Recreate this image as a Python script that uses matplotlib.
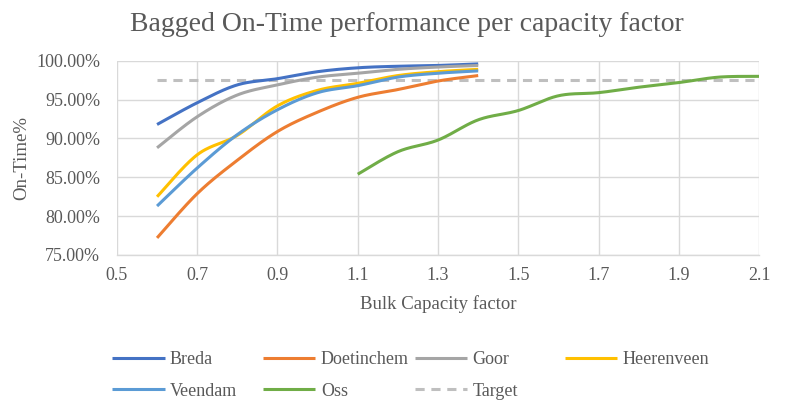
import numpy as np
import matplotlib
matplotlib.use("Agg")
import matplotlib.pyplot as plt

plt.rcParams['font.family'] = ['Liberation Serif', 'DejaVu Serif']

# Capacity factors (x) and on-time performance (%) per site
x_main = [0.6, 0.7, 0.8, 0.9, 1.0, 1.1, 1.2, 1.3, 1.4]
breda = [91.8, 94.6, 96.9, 97.7, 98.6, 99.1, 99.3, 99.4, 99.6]
doetinchem = [77.2, 82.9, 87.2, 90.9, 93.4, 95.3, 96.3, 97.4, 98.1]
goor = [88.8, 92.8, 95.6, 96.9, 97.9, 98.4, 98.9, 99.2, 99.4]
heerenveen = [82.5, 87.9, 90.4, 94.2, 96.2, 97.1, 98.1, 98.6, 98.9]
veendam = [81.3, 86.2, 90.5, 93.7, 95.9, 96.8, 97.9, 98.4, 98.7]

x_oss = [1.1, 1.2, 1.3, 1.4, 1.5, 1.6, 1.7, 1.8, 1.9, 2.0, 2.1]
oss = [85.4, 88.3, 89.8, 92.4, 93.6, 95.5, 95.9, 96.6, 97.2, 97.9, 98.0]

x_target = [0.6, 2.1]
target = [97.5, 97.5]

series_names = ["Breda", "Doetinchem", "Goor", "Heerenveen", "Veendam", "Oss", "Target"]
colors = ["#4472C4", "#ED7D31", "#A5A5A5", "#FFC000", "#5B9BD5", "#70AD47", "#BFBFBF"]

x_ticks = [0.5, 0.7, 0.9, 1.1, 1.3, 1.5, 1.7, 1.9, 2.1]
y_ticks = [75, 80, 85, 90, 95, 100]


def smooth(xs, ys, n=30):
    """Cardinal (Catmull-Rom) Bezier smoothing through the given points."""
    p = np.column_stack([xs, ys]).astype(float)
    if len(p) < 3:
        return p[:, 0], p[:, 1]
    ext = np.vstack([p[0], p, p[-1]])
    out = []
    t = np.linspace(0, 1, n)[:, None]
    for i in range(1, len(ext) - 2):
        p0, p1, p2, p3 = ext[i - 1], ext[i], ext[i + 1], ext[i + 2]
        c1 = p1 + (p2 - p0) / 6.0
        c2 = p2 - (p3 - p1) / 6.0
        seg = ((1 - t) ** 3) * p1 + 3 * ((1 - t) ** 2) * t * c1 \
            + 3 * (1 - t) * t ** 2 * c2 + t ** 3 * p2
        out.append(seg if i == 1 else seg[1:])
    out = np.vstack(out)
    return out[:, 0], out[:, 1]


fig = plt.figure(figsize=(7.9, 4.0), dpi=100)
ax = fig.add_axes([0.148, 0.3625, 0.813, 0.4855])

data = [(x_main, breda), (x_main, doetinchem), (x_main, goor),
        (x_main, heerenveen), (x_main, veendam), (x_oss, oss)]
handles = []
for (xs, ys), name, c in zip(data, series_names[:6], colors[:6]):
    sx, sy = smooth(xs, ys)
    ln, = ax.plot(sx, sy, color=c, lw=2.2, solid_capstyle='butt', label=name, zorder=3)
    handles.append(ln)

# Target line drawn beneath the series
tl, = ax.plot(x_target, target, color=colors[6], lw=2.2, ls=(0, (3, 2.2)),
              label="Target", zorder=2)
handles.append(tl)

ax.set_xlim(0.5, 2.1)
ax.set_ylim(75, 100)
ax.set_xticks(x_ticks)
ax.set_xticklabels([f"{v:.1f}" for v in x_ticks])
ax.set_yticks(y_ticks)
ax.set_yticklabels([f"{v:.2f}%" for v in y_ticks])
ax.grid(True, color="#D9D9D9", lw=1.0, zorder=0)
ax.set_axisbelow(True)
for s in ax.spines.values():
    s.set_visible(False)
ax.spines['bottom'].set_visible(True)
ax.spines['bottom'].set_color("#D9D9D9")
ax.spines['bottom'].set_linewidth(1.0)
ax.tick_params(axis='both', length=0, labelsize=13, labelcolor="#595959")
ax.tick_params(axis='y', pad=12)
ax.tick_params(axis='x', pad=9)

ax.set_xlabel("Bulk Capacity factor", fontsize=13.5, color="#595959", labelpad=8)
ax.set_ylabel("On-Time%", fontsize=13.5, color="#595959", labelpad=4)
fig.suptitle("Bagged On-Time performance per capacity factor", fontsize=20,
             color="#595959", x=0.515, y=0.97, va='top')

# Legend laid out in four evenly spaced columns
columns = [[0, 4], [1, 5], [2, 6], [3]]
col_x = [0.142, 0.333, 0.525, 0.715]
for idx, cx in zip(columns, col_x):
    fig.legend([handles[i] for i in idx], [series_names[i] for i in idx],
               loc='upper left', bbox_to_anchor=(cx, 0.122), frameon=False,
               fontsize=13, labelcolor="#595959", handlelength=2.9,
               handletextpad=0.3, labelspacing=0.8, borderaxespad=0,
               borderpad=0)

fig.savefig("out.png", dpi=100)
